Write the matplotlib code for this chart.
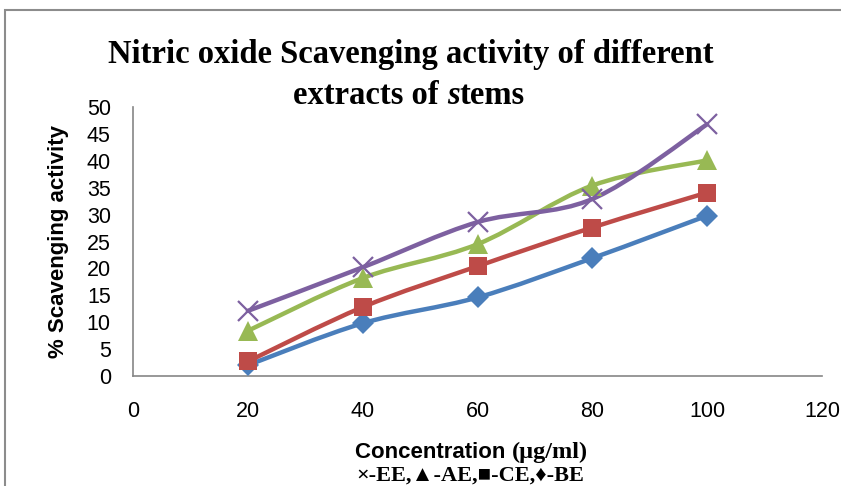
import matplotlib
matplotlib.use("Agg")
import matplotlib.pyplot as plt
import numpy as np
from matplotlib.path import Path
from matplotlib.patches import PathPatch, Rectangle

# concentration (ug/ml)
conc = [20, 40, 60, 80, 100]

# % scavenging activity per extract
be = [2.0, 9.8, 14.6, 21.9, 29.8]
ce = [2.7, 12.8, 20.4, 27.6, 34.1]
ae = [8.4, 18.2, 24.5, 35.4, 40.1]
ee = [12.1, 20.2, 28.6, 32.9, 46.8]

series = [
    (be, "#4A7EBB", "D", 11),
    (ce, "#BE4B48", "s", 13),
    (ae, "#98B954", "^", 14),
    (ee, "#7D60A0", "x", 14),
]


def smooth_path(xs, ys):
    # Excel-style smoothed line: cubic bezier through the points
    pts = np.column_stack([xs, ys]).astype(float)
    n = len(pts)
    verts = [pts[0]]
    codes = [Path.MOVETO]
    for i in range(n - 1):
        p0 = pts[i - 1] if i > 0 else pts[i]
        p1 = pts[i]
        p2 = pts[i + 1]
        p3 = pts[i + 2] if i + 2 < n else pts[i + 1]
        c1 = p1 + (p2 - p0) / 6.0
        c2 = p2 - (p3 - p1) / 6.0
        verts += [c1, c2, p2]
        codes += [Path.CURVE4] * 3
    return Path(verts, codes)


W, H = 841, 486
fig = plt.figure(figsize=(W / 100, H / 100), dpi=100)
ax = fig.add_axes([133 / W, 1 - 376 / H, (822 - 133) / W, (376 - 107) / H])

for ys, col, mk, ms in series:
    ax.add_patch(PathPatch(smooth_path(conc, ys), fill=False, edgecolor=col,
                           lw=3.2, capstyle="round", joinstyle="round", zorder=2))
    if mk == "x":
        ax.plot(conc, ys, ls="none", marker=mk, ms=ms, mew=1.6, color=col, zorder=3)
    else:
        ax.plot(conc, ys, ls="none", marker=mk, ms=ms, mew=0, color=col, zorder=3)

ax.set_xlim(0, 120)
ax.set_ylim(0, 50)
ax.set_xticks(range(0, 121, 20))
ax.set_yticks(range(0, 51, 5))
for s in ["top", "right"]:
    ax.spines[s].set_visible(False)
for s in ["left", "bottom"]:
    ax.spines[s].set_color("#868686")
    ax.spines[s].set_linewidth(1.2)
ax.tick_params(length=0, labelsize=15.5, labelcolor="black")
ax.tick_params(axis="y", pad=16)
ax.tick_params(axis="x", pad=18)
for lab in ax.get_xticklabels() + ax.get_yticklabels():
    lab.set_family("Liberation Sans")

ax.set_ylabel("% Scavenging activity", fontsize=16, fontweight="bold",
              family="Liberation Sans", labelpad=13)

# title, with the italic s in "stems"
tfont = dict(family="Liberation Serif", fontweight="bold", fontsize=23.5)
fig.text(411 / W, 1 - 63 / H, "Nitric oxide Scavenging activity of different",
         ha="center", va="baseline", **tfont)
t1 = fig.text(293 / W, 1 - 104 / H, "extracts of ", ha="left", va="baseline", **tfont)
t2 = fig.text(0, 0, "s", ha="left", va="baseline", fontstyle="italic", **tfont)
t3 = fig.text(0, 0, "tems", ha="left", va="baseline", **tfont)

# x label: sans for the word, serif for the unit
xl1 = fig.text(355 / W, 1 - 458 / H, "Concentration ", ha="left", va="baseline",
               family="Liberation Sans", fontweight="bold", fontsize=16)
xl2 = fig.text(0, 0, "(µg/ml)", ha="left", va="baseline",
               family="Liberation Serif", fontweight="bold", fontsize=17.5)
fig.text(356 / W, 1 - 481 / H, "×-EE,▲-AE,■-CE,♦-BE", ha="left", va="baseline",
         family=["Liberation Serif", "DejaVu Serif"], fontweight="bold", fontsize=16)

# chain the mixed-style pieces after each other
fig.canvas.draw()
r = fig.canvas.get_renderer()
inv = fig.transFigure.inverted()
for a, b in [(t1, t2), (t2, t3), (xl1, xl2)]:
    bb = a.get_window_extent(r)
    x0 = inv.transform((bb.x1, 0))[0]
    b.set_position((x0, a.get_position()[1]))

# outer chart border (cut off at right and bottom)
fig.add_artist(Rectangle((5 / W, -0.2), 1.2, 1 - 10 / H + 0.2, transform=fig.transFigure,
                         fill=False, edgecolor="#8C8C8C", lw=1.5))

fig.savefig("out.png", dpi=100)
